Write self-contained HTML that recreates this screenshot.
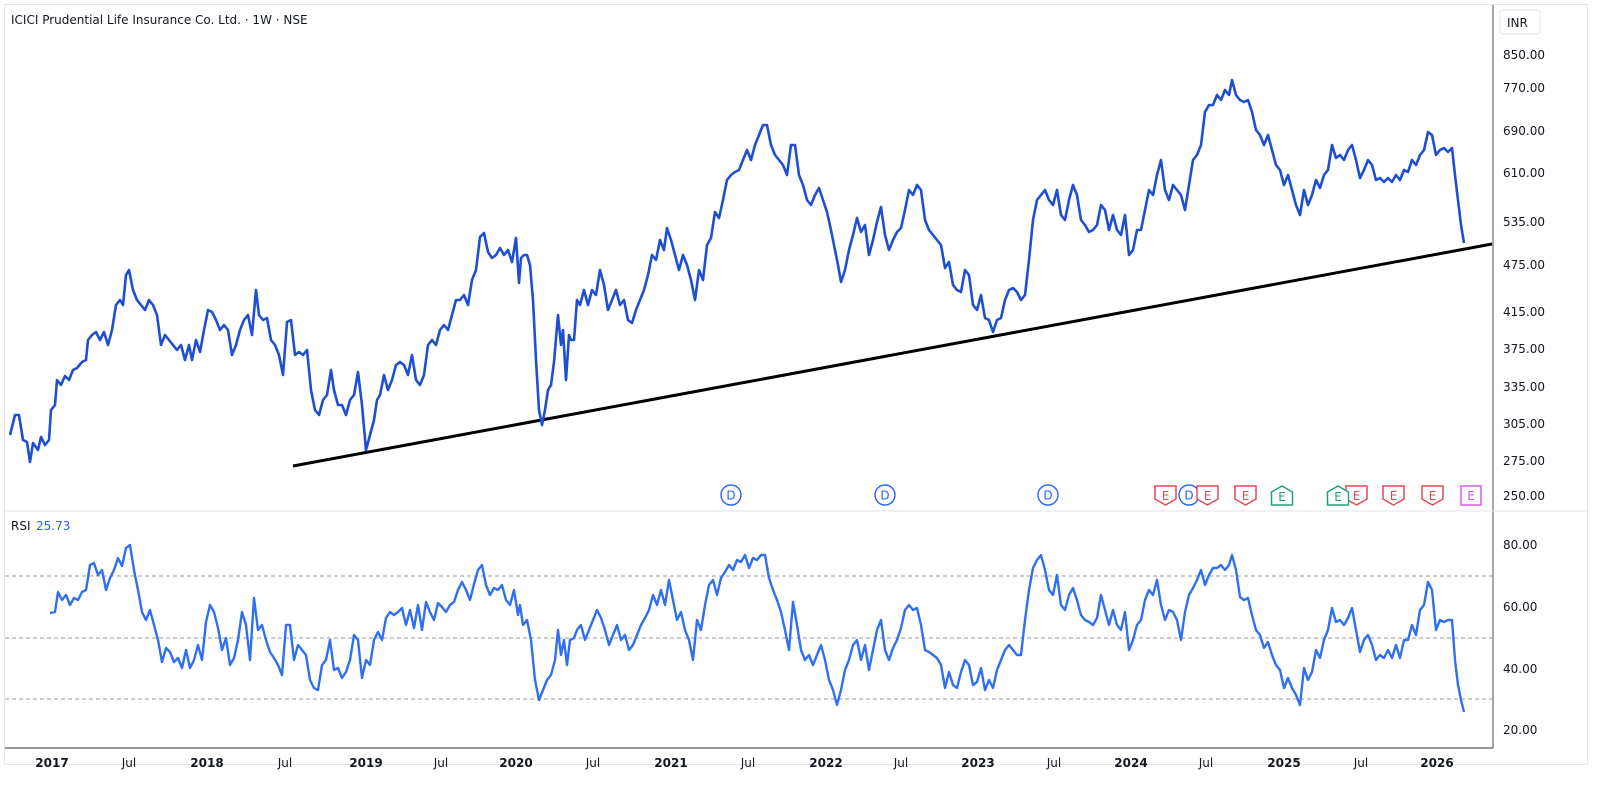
<!DOCTYPE html>
<html><head><meta charset="utf-8"><style>
body{margin:0;background:#fff;width:1600px;height:785px;overflow:hidden;font-family:"DejaVu Sans","Liberation Sans",sans-serif}
svg{display:block}
</style></head><body>
<svg width="1600" height="785" xmlns="http://www.w3.org/2000/svg" font-family="DejaVu Sans, Liberation Sans, sans-serif">
<rect x="0" y="0" width="1600" height="785" fill="#fff"/>
<rect x="4.5" y="4.5" width="1583" height="760" fill="none" stroke="#e6e6e6"/>
<line x1="1493" y1="5" x2="1493" y2="748" stroke="#888" stroke-width="1.5"/>
<line x1="5" y1="511" x2="1588" y2="511" stroke="#e0e3eb"/>
<line x1="5" y1="748" x2="1493" y2="748" stroke="#777" stroke-width="1.5"/>
<text x="11" y="24" font-size="12" fill="#131722">ICICI Prudential Life Insurance Co. Ltd. · 1W · NSE</text>
<rect x="1500" y="10" width="40" height="24" rx="3" fill="#fff" stroke="#e0e3eb"/>
<text x="1507" y="27" font-size="12" fill="#131722">INR</text>
<g font-size="12" fill="#131722">
<text x="1503" y="59">850.00</text><text x="1503" y="92">770.00</text><text x="1503" y="135">690.00</text><text x="1503" y="177">610.00</text><text x="1503" y="226">535.00</text><text x="1503" y="269">475.00</text><text x="1503" y="316">415.00</text><text x="1503" y="353">375.00</text><text x="1503" y="391">335.00</text><text x="1503" y="428">305.00</text><text x="1503" y="465">275.00</text><text x="1503" y="500">250.00</text>
<text x="1503" y="549">80.00</text><text x="1503" y="611">60.00</text><text x="1503" y="673">40.00</text><text x="1503" y="734">20.00</text>
</g>
<g font-size="12" fill="#131722" text-anchor="middle">
<text x="52" y="767" font-weight="bold">2017</text><text x="129" y="767">Jul</text>
<text x="207" y="767" font-weight="bold">2018</text><text x="285" y="767">Jul</text>
<text x="366" y="767" font-weight="bold">2019</text><text x="441" y="767">Jul</text>
<text x="516" y="767" font-weight="bold">2020</text><text x="593" y="767">Jul</text>
<text x="671" y="767" font-weight="bold">2021</text><text x="748" y="767">Jul</text>
<text x="826" y="767" font-weight="bold">2022</text><text x="901" y="767">Jul</text>
<text x="978" y="767" font-weight="bold">2023</text><text x="1054" y="767">Jul</text>
<text x="1131" y="767" font-weight="bold">2024</text><text x="1206" y="767">Jul</text>
<text x="1284" y="767" font-weight="bold">2025</text><text x="1361" y="767">Jul</text>
<text x="1437" y="767" font-weight="bold">2026</text>
</g>
<g stroke="#9598a1" stroke-dasharray="4,3" stroke-width="1">
<line x1="5" y1="576" x2="1493" y2="576"/><line x1="5" y1="638" x2="1493" y2="638"/><line x1="5" y1="699" x2="1493" y2="699"/>
</g>
<text x="11" y="530" font-size="12" fill="#131722">RSI</text>
<text x="36" y="530" font-size="12" fill="#2962ff">25.73</text>
<line x1="293" y1="466" x2="1492" y2="244" stroke="#000" stroke-width="3"/>
<polyline fill="none" stroke="#1e4fd0" stroke-width="2.6" stroke-linejoin="round" points="10,435 15,415 19,415 23,440 27,442 30,462 33,443 38,450 41,437 45,445 49,440 51,410 55,405 57,380 61,385 65,376 69,380 73,370 77,368 82,362 86,360 88,340 92,335 96,332 100,340 104,332 108,345 112,330 116,305 120,300 123,305 126,275 129,270 133,290 137,300 141,305 145,310 149,300 153,305 157,315 161,345 165,335 169,340 173,345 177,350 181,345 185,360 189,345 192,360 196,340 200,352 204,330 208,310 212,312 216,320 220,330 224,325 228,330 232,355 236,345 240,330 244,320 248,315 252,335 256,290 259,315 263,320 267,318 271,340 275,345 279,355 283,375 287,322 291,320 295,355 299,352 303,355 307,350 311,390 315,410 319,415 323,400 327,395 331,370 334,390 338,405 342,405 346,415 350,400 354,395 358,372 362,405 366,450 370,435 374,420 377,400 380,395 384,375 388,390 392,380 396,365 400,362 404,365 408,375 412,355 416,380 420,385 424,375 428,345 432,340 436,345 440,330 444,325 448,330 452,315 456,300 460,300 464,295 468,305 472,280 476,270 480,237 484,233 488,252 492,258 496,255 500,248 504,255 508,250 512,262 516,238 519,283 521,258 524,255 527,255 530,265 533,300 536,360 539,410 542,425 545,410 548,390 551,385 554,362 558,315 561,345 563,330 566,380 569,335 571,340 574,340 577,300 580,305 584,290 588,305 592,290 596,295 600,270 604,285 608,310 612,300 616,290 620,305 624,300 628,320 632,323 636,310 640,300 644,290 648,275 652,255 656,260 660,240 664,250 667,228 671,240 675,255 679,270 683,255 687,265 691,280 695,300 699,270 703,280 707,245 711,238 715,212 719,218 723,200 727,180 731,175 735,172 739,170 743,160 747,150 751,160 755,145 759,135 763,125 767,125 771,145 775,155 779,160 783,165 787,175 791,145 795,145 799,175 803,185 807,200 811,205 815,195 819,188 823,200 827,212 831,230 835,250 838,265 841,282 845,270 849,250 853,235 857,218 861,232 865,225 869,255 873,240 877,222 881,207 885,235 889,250 893,240 897,232 901,228 905,210 909,190 913,195 917,185 921,190 925,220 929,230 933,235 937,240 941,245 945,268 949,262 953,285 957,290 961,292 965,270 969,275 973,305 977,310 981,295 985,318 989,320 993,332 997,320 1001,318 1005,300 1009,290 1013,288 1017,292 1021,300 1025,295 1029,260 1033,220 1037,200 1041,195 1045,190 1049,200 1053,205 1057,190 1061,215 1065,220 1069,200 1073,185 1077,195 1081,220 1085,225 1089,232 1093,230 1097,225 1101,205 1105,210 1109,230 1113,215 1117,230 1121,235 1125,215 1129,255 1133,250 1137,230 1141,230 1145,210 1149,190 1153,195 1157,175 1161,160 1165,190 1169,200 1173,185 1177,190 1181,195 1185,210 1189,185 1193,160 1197,155 1201,145 1205,112 1209,105 1213,105 1217,95 1221,100 1225,90 1229,95 1232,80 1236,95 1240,100 1244,102 1248,100 1252,112 1256,130 1260,135 1264,145 1268,135 1272,150 1276,165 1280,170 1284,185 1288,175 1292,190 1296,205 1300,215 1304,190 1308,205 1312,195 1316,180 1320,188 1324,175 1328,170 1332,145 1336,158 1340,155 1344,160 1348,150 1352,145 1356,160 1360,178 1364,170 1368,160 1372,165 1376,180 1380,178 1384,182 1388,178 1392,182 1396,175 1400,180 1404,170 1408,172 1412,160 1416,165 1420,155 1424,150 1428,132 1432,135 1436,155 1440,150 1444,148 1448,152 1452,148 1455,175 1458,200 1461,225 1464,243"/>
<polyline fill="none" stroke="#2f6ff0" stroke-width="2.4" stroke-linejoin="round" points="50,613 55,612 58,592 62,600 66,595 70,605 74,598 78,600 82,592 86,590 90,565 94,563 98,575 102,570 106,590 110,578 114,570 118,558 122,566 126,548 130,545 134,570 138,590 142,612 146,620 150,610 154,625 158,640 162,662 166,648 170,652 174,662 178,658 182,668 186,650 190,668 194,660 198,645 202,660 206,622 210,605 214,612 218,628 222,650 226,638 230,665 234,658 238,640 242,612 246,625 250,660 254,598 258,630 262,625 266,640 270,652 274,658 278,665 282,675 286,625 290,625 294,660 298,645 302,650 306,655 310,680 314,688 318,690 322,665 326,660 330,640 334,670 338,668 342,678 346,672 350,660 354,635 358,640 362,678 366,660 370,665 374,640 378,632 382,640 386,618 390,612 394,615 398,612 402,608 406,625 410,610 414,628 418,605 422,630 426,602 430,612 434,620 438,603 442,607 446,612 450,605 454,602 458,590 462,582 466,590 470,600 474,584 478,570 482,565 486,585 490,595 494,588 498,590 502,585 506,600 510,605 514,590 518,615 520,605 523,625 527,620 531,640 535,680 539,700 543,690 547,680 551,675 555,660 558,630 561,655 564,640 567,665 570,640 574,638 577,630 581,625 585,640 589,630 593,620 597,610 601,618 605,630 609,645 613,635 617,625 621,640 625,635 629,650 633,645 637,635 641,625 645,618 649,610 653,595 657,605 661,590 665,605 669,580 673,600 677,620 681,612 685,630 689,640 693,660 697,620 701,630 705,605 709,585 713,580 717,595 721,578 725,572 729,565 733,570 737,560 741,562 745,555 749,568 753,558 757,560 761,555 765,555 769,578 773,590 777,600 781,612 785,630 789,650 793,602 797,625 801,650 805,660 809,655 813,665 817,655 821,645 825,660 829,680 833,690 837,705 841,690 845,670 849,660 853,645 857,640 861,660 865,645 869,670 873,650 877,630 881,620 885,650 889,660 893,648 897,640 901,628 905,610 909,605 913,610 917,608 921,625 925,650 929,652 933,655 937,658 941,665 945,688 949,672 953,685 957,688 961,672 965,660 969,665 973,685 977,682 981,668 985,690 989,680 993,688 997,670 1001,660 1005,650 1009,645 1013,650 1017,655 1021,655 1025,620 1029,590 1033,568 1037,560 1041,555 1045,570 1049,590 1053,595 1057,575 1061,605 1065,610 1069,595 1073,588 1077,600 1081,615 1085,620 1089,622 1093,625 1097,618 1101,595 1105,610 1109,625 1113,610 1117,625 1121,630 1125,612 1129,650 1133,640 1137,625 1141,620 1145,600 1149,590 1153,595 1157,580 1161,605 1165,620 1169,610 1173,612 1177,620 1181,640 1185,612 1189,595 1193,588 1197,580 1201,570 1205,585 1209,575 1213,568 1217,568 1221,565 1225,570 1229,565 1232,555 1236,570 1240,597 1244,600 1248,598 1252,615 1256,630 1260,635 1264,648 1268,642 1272,655 1276,665 1280,670 1284,688 1288,678 1292,688 1296,695 1300,705 1304,668 1308,680 1312,672 1316,650 1320,658 1324,640 1328,630 1332,608 1336,622 1340,620 1344,625 1348,618 1352,608 1356,630 1360,652 1364,640 1368,635 1372,645 1376,660 1380,655 1384,658 1388,650 1392,658 1396,645 1400,658 1404,640 1408,640 1412,625 1416,635 1420,610 1424,605 1428,582 1432,590 1436,630 1440,620 1444,622 1448,620 1452,620 1455,660 1458,685 1461,700 1464,712"/>
<g font-size="12" text-anchor="middle" fill="#fff">
<g stroke="#2962ff" stroke-width="1.4" fill="#fff">
<circle cx="731" cy="495" r="10"/><circle cx="885" cy="495" r="10"/><circle cx="1048" cy="495" r="10"/><circle cx="1189" cy="495" r="10"/>
</g>
<g fill="#2962ff"><text x="731" y="499.5">D</text><text x="885" y="499.5">D</text><text x="1048" y="499.5">D</text><text x="1189" y="499.5">D</text></g>
<g stroke="#e04a55" stroke-width="1.5" fill="#fff">
<path d="M1155,486h21v13l-10.5,6l-10.5,-6z"/><path d="M1197,486h21v13l-10.5,6l-10.5,-6z"/><path d="M1235,486h21v13l-10.5,6l-10.5,-6z"/><path d="M1346,486h21v13l-10.5,6l-10.5,-6z"/><path d="M1383,486h21v13l-10.5,6l-10.5,-6z"/><path d="M1422,486h21v13l-10.5,6l-10.5,-6z"/>
</g>
<g fill="#e04a55"><text x="1165.5" y="500">E</text><text x="1207.5" y="500">E</text><text x="1245.5" y="500">E</text><text x="1356.5" y="500">E</text><text x="1393.5" y="500">E</text><text x="1432.5" y="500">E</text></g>
<g stroke="#22a079" stroke-width="1.5" fill="#fff">
<path d="M1271.5,505h21v-13l-10.5,-6l-10.5,6z"/><path d="M1327.5,505h21v-13l-10.5,-6l-10.5,6z"/>
</g>
<g fill="#22a079"><text x="1282" y="501">E</text><text x="1338" y="501">E</text></g>
<rect x="1461" y="486" width="20" height="19" fill="#fff" stroke="#d45be8" stroke-width="1.5"/>
<text x="1471" y="500" fill="#d45be8">E</text>
</g>
</svg>
</body></html>
